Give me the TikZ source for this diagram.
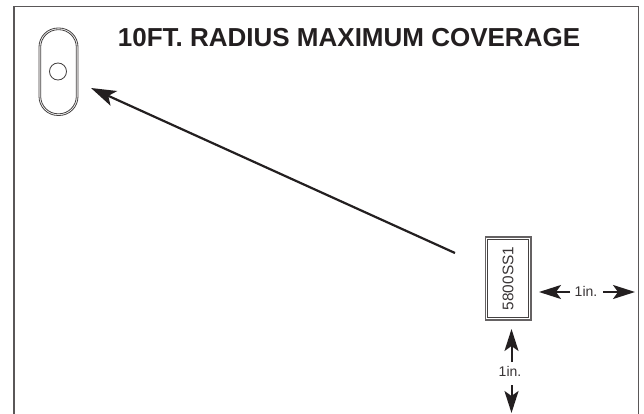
\documentclass[tikz,border=0pt]{standalone}
\usepackage{fontspec}
\setmainfont{Liberation Sans}
\usetikzlibrary{arrows.meta}
\definecolor{ink}{HTML}{231F20}
\tikzset{
  x=1pt,y=-1pt,
  frameline/.style={draw=ink!75,line width=1.4pt},
  thinline/.style={draw=ink!85,line width=.8pt},
  arrowline/.style={draw=ink,line width=2pt,-{Stealth[length=22pt,width=14pt,inset=5pt]}},
  mainarrow/.style={draw=ink,line width=2.2pt,-{Stealth[length=25pt,width=16pt,inset=6pt]}},
  smalltext/.style={text=ink!90,font=\fontsize{14}{16}\selectfont,inner sep=0pt},
}
\begin{document}
\begin{tikzpicture}
\useasboundingbox (0,0) rectangle (644,414);
\fill[white] (0,0) rectangle (644,414);
\draw[frameline] (14,414) -- (14,6.5) -- (638.5,6.5) -- (638.5,414);
% wall slot
\draw[thinline,rounded corners=19pt] (39,28) rectangle (78,115.5);
\draw[thinline,rounded corners=17.5pt] (40.7,29.7) rectangle (76.3,113.8);
\node[circle,thinline,minimum size=17pt,inner sep=0pt] (hole) at (58,71.5) {};
\node[font=\bfseries\fontsize{26}{30}\selectfont,text=ink,inner sep=0pt] (title) at (349,38) {10FT. RADIUS MAXIMUM COVERAGE};
% sensor
\node[draw=ink!70,line width=1.2pt,minimum width=45.5pt,minimum height=83pt,inner sep=0pt] (sensor) at (508.2,278.5) {};
\node[thinline,minimum width=41pt,minimum height=78.5pt,inner sep=0pt] (inner) at (508.2,278.5) {};
\node[smalltext,font=\fontsize{15.4}{18}\selectfont,rotate=90] (model) at (508,278.5) {5800SS1};
% arrows
\coordinate (mainstart) at (455,253);
\coordinate (maintip) at (91,88);
\draw[mainarrow] (mainstart) -- (maintip);
\node[smalltext] (labelright) at (586,291) {1in.};
\node[smalltext] (labelbelow) at (510,371) {1in.};
\coordinate (taill) at (570,292);
\coordinate (tailr) at (603,292);
\coordinate (tailu) at (511.5,362);
\coordinate (taild) at (511.5,385);
\coordinate (tipl) at (539,292);
\coordinate (tipr) at (635,292);
\coordinate (tipu) at (511.5,329);
\coordinate (tipd) at (511.5,413);
\draw[arrowline] (taill) -- (tipl);
\draw[arrowline] (tailr) -- (tipr);
\draw[arrowline] (tailu) -- (tipu);
\draw[arrowline] (taild) -- (tipd);
\end{tikzpicture}
\end{document}
